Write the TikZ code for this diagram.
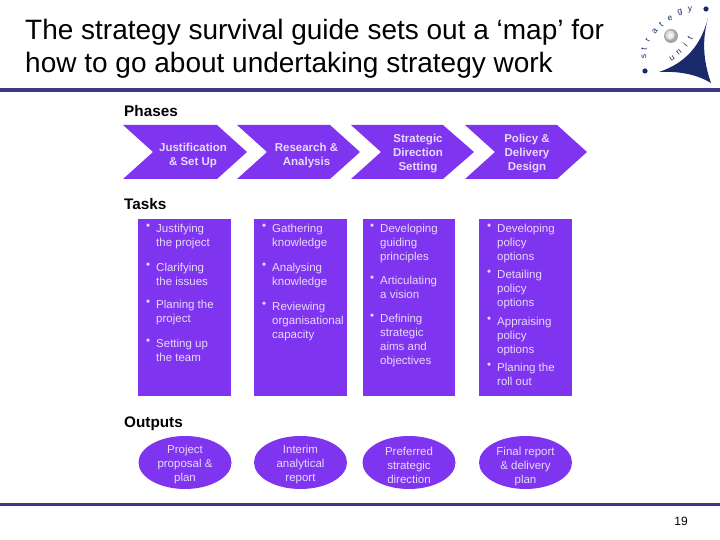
\documentclass[tikz,border=0pt]{standalone}
\usepackage{fontspec}
\setmainfont{Liberation Sans}
\definecolor{pur}{HTML}{7F35F0}
\definecolor{rule}{HTML}{3D3A85}
\definecolor{logo}{HTML}{1B2A6B}
\definecolor{txt}{HTML}{E6D9FA}
\tikzset{
 x=1pt,y=-1pt,
 chev/.style={fill=pur,draw=none},
 phase/.style={text=txt,font=\fontsize{11.5}{14}\selectfont\bfseries,align=center,inner sep=0pt},
 taskbox/.style={fill=pur,draw=none},
 tasktxt/.style={text=txt,font=\fontsize{11.5}{14}\selectfont,align=left,anchor=north west,inner sep=0pt},
 outl/.style={ellipse,fill=pur,draw=none,minimum width=93pt,minimum height=53pt,inner sep=0pt},
 outt/.style={text=txt,font=\fontsize{11.5}{14}\selectfont,align=center,inner sep=0pt},
 head/.style={font=\fontsize{15.3}{16}\selectfont\bfseries,anchor=base west,inner sep=0pt},
 title/.style={font=\fontsize{28}{33}\selectfont,anchor=base west,inner sep=0pt},
 ruleline/.style={fill=rule,draw=none},
 lg/.style={text=logo,font=\fontsize{8.5}{9}\selectfont,inner sep=0pt},
}
\usetikzlibrary{shapes.geometric}
\newcommand{\bul}[3]{\node[tasktxt] at (#1,#2+3) {•}; \node[tasktxt] at (#1+10,#2+3) {#3};}
\begin{document}
\begin{tikzpicture}
\useasboundingbox (0,0) rectangle (720,540);
\node[title] at (25,39.5) {The strategy survival guide sets out a ‘map’ for};
\node[title] at (25,72.5) {how to go about undertaking strategy work};
\fill[ruleline] (0,88) rectangle (720,92);
\fill[ruleline] (0,503) rectangle (720,506);
\node[font=\fontsize{12}{14}\selectfont,inner sep=0pt] (pg) at (681,521) {19};
% logo
\fill[gray!70] (671,36) circle (7);
\shade[inner color=white,outer color=gray!40] (670,35) circle (5);
\fill[logo] (706,9) circle (2.6);
\fill[logo] (645,71) circle (2.6);
\fill[logo] (708,18) .. controls (701,45) and (686,63) .. (659,72) .. controls (678,71) and (696,74) .. (711,83) .. controls (703,60) and (702,40) .. (708,18) -- cycle;
\foreach \c/\px/\py/\r in {s/644/57/95,t/644/49/85,r/648/40/65,a/655/31/50,t/661/25/40,e/670/18/25,g/680/13/15,y/690/10/5}{
 \node[lg,rotate=\r] at (\px,\py) {\c};}
\foreach \c/\px/\py/\r in {u/672/58/30,n/679/52/40,i/685/45/50,t/690/38/60}{
 \node[lg,rotate=\r] at (\px,\py) {\c};}
% headings
\node[head] (hp) at (124,117) {Phases};
\node[head] (ht) at (124,209.5) {Tasks};
\node[head] (ho) at (124,427) {Outputs};
% chevrons
\fill[chev] (123,125) -- (217,125) -- (247,152) -- (217,179) -- (123,179) -- (153,152) -- cycle;
\fill[chev] (237,125) -- (330,125) -- (360,152) -- (330,179) -- (237,179) -- (267,152) -- cycle;
\fill[chev] (351,125) -- (443,125) -- (474,152) -- (443,179) -- (351,179) -- (381,152) -- cycle;
\fill[chev] (465,125) -- (557,125) -- (587,152) -- (557,179) -- (465,179) -- (495,152) -- cycle;
\node[phase] at (193,155.5) {Justification\\\& Set Up};
\node[phase] at (306.5,155.5) {Research \&\\Analysis};
\node[phase] at (418,154) {Strategic\\Direction\\Setting};
\node[phase] at (527,154) {Policy \&\\Delivery\\Design};
% task boxes
\fill[taskbox] (138,219) rectangle (231,396);
\fill[taskbox] (254,219) rectangle (347,396);
\fill[taskbox] (363,219) rectangle (455,396);
\fill[taskbox] (479,219) rectangle (572,396);
\bul{146}{221}{Justifying\\the project}
\bul{146}{260}{Clarifying\\the issues}
\bul{146}{297}{Planing the\\project}
\bul{146}{336}{Setting up\\the team}
\bul{262}{221}{Gathering\\knowledge}
\bul{262}{260}{Analysing\\knowledge}
\bul{262}{299}{Reviewing\\organisational\\capacity}
\bul{370}{221}{Developing\\guiding\\principles}
\bul{370}{273}{Articulating\\a vision}
\bul{370}{311}{Defining\\strategic\\aims and\\objectives}
\bul{487}{221}{Developing\\policy\\options}
\bul{487}{267}{Detailing\\policy\\options}
\bul{487}{314}{Appraising\\policy\\options}
\bul{487}{360}{Planing the\\roll out}
% outputs
\node[outl] (o1) at (185,462.5) {};
\node[outl] (o2) at (300.5,462.5) {};
\node[outl] (o3) at (409,462.5) {};
\node[outl] (o4) at (525.5,462.5) {};
\node[outt] at (185,465) {Project\\proposal \&\\plan};
\node[outt] at (300.5,465) {Interim\\analytical\\report};
\node[outt] at (409,465) {Preferred\\strategic\\direction};
\node[outt] at (525.5,467) {Final report\\\& delivery\\plan};
\end{tikzpicture}
\end{document}
